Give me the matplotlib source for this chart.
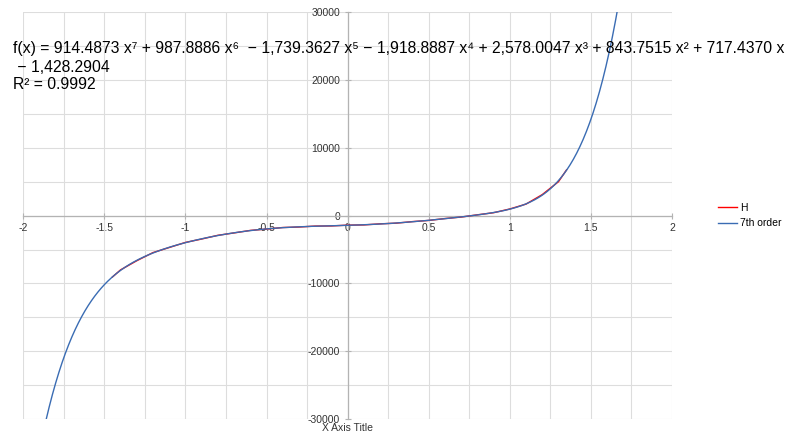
import matplotlib
matplotlib.use("Agg")
import matplotlib.pyplot as plt
import numpy as np
from matplotlib.ticker import MultipleLocator

plt.rcParams["font.family"] = ["Liberation Sans", "DejaVu Sans"]

# measured series "H"
h_x = [-1.45, -1.4, -1.3, -1.2, -1.1, -1.0, -0.9, -0.8, -0.7, -0.6, -0.5, -0.4,
       -0.3, -0.2, -0.1, 0.0, 0.1, 0.2, 0.3, 0.4, 0.5, 0.6, 0.7, 0.8, 0.9,
       1.0, 1.1, 1.2, 1.3, 1.35]
h_y = [-9050, -8000, -6650, -5450, -4700, -3950, -3450, -2900, -2550, -2180,
       -1980, -1750, -1680, -1540, -1520, -1400, -1370, -1210, -1110, -880,
       -710, -430, -210, 120, 430, 980, 1700, 3100, 5000, 6750]

# 7th order trendline coefficients, as printed on the chart (x^7 ... x^0)
coeffs = [914.4873, 987.8886, -1739.3627, -1918.8887, 2578.0047, 843.7515,
          717.4370, -1428.2904]

eq_lines = [
    "f(x) = 914.4873 x\u2077 + 987.8886 x\u2076  \u2212 1,739.3627 x\u2075 \u2212 1,918.8887 x\u2074"
    " + 2,578.0047 x\u00b3 + 843.7515 x\u00b2 + 717.4370 x",
    " \u2212 1,428.2904",
    "R\u00b2 = 0.9992",
]

fig = plt.figure(figsize=(8, 4.33), dpi=100)
ax = fig.add_axes([0.029, 0.032, 0.811, 0.940])

fx = np.linspace(-2, 2, 600)
ax.plot(h_x, h_y, color="#ff0000", lw=1.0, label="H", zorder=3)
ax.plot(fx, np.polyval(coeffs, fx), color="#3a6cb3", lw=1.0, label="7th order", zorder=4)

ax.set_xlim(-2, 2)
ax.set_ylim(-30000, 30000)
ax.xaxis.set_major_locator(MultipleLocator(0.5))
ax.xaxis.set_minor_locator(MultipleLocator(0.25))
ax.yaxis.set_major_locator(MultipleLocator(10000))
ax.yaxis.set_minor_locator(MultipleLocator(5000))
ax.grid(which="both", color="#dddddd", lw=0.8, zorder=0)
ax.set_axisbelow(True)

ax.spines["left"].set_position(("data", 0))
ax.spines["bottom"].set_position(("data", 0))
for s in ["top", "right"]:
    ax.spines[s].set_visible(False)
for s in ["left", "bottom"]:
    ax.spines[s].set_color("#b3b3b3")
    ax.spines[s].set_linewidth(0.9)

ax.tick_params(which="major", direction="inout", length=5, color="#b3b3b3",
               labelsize=7.5, labelcolor="#333333", pad=3)
ax.tick_params(which="minor", length=0)

ax.set_xticks(np.arange(-2, 2.01, 0.5))
ax.set_xticklabels(["-2", "-1.5", "-1", "-0.5", "0", "0.5", "1", "1.5", "2"])
ax.set_yticks(np.arange(-30000, 30001, 10000))
ax.set_yticklabels([str(v) for v in range(-30000, 30001, 10000)])

fig.text(0.434, 0.012, "X Axis Title", fontsize=7.5, color="#333333",
         ha="center", va="center")

ys = [0.888, 0.843, 0.805]
for line, yy in zip(eq_lines, ys):
    fig.text(0.016, yy, line, fontsize=11.3, color="#000000", va="center")

ax.legend(loc="center left", bbox_to_anchor=(1.057, 0.50), frameon=False,
          fontsize=7.5, handlelength=1.8, handletextpad=0.3, labelspacing=0.5)

fig.savefig("out.png", dpi=100)
